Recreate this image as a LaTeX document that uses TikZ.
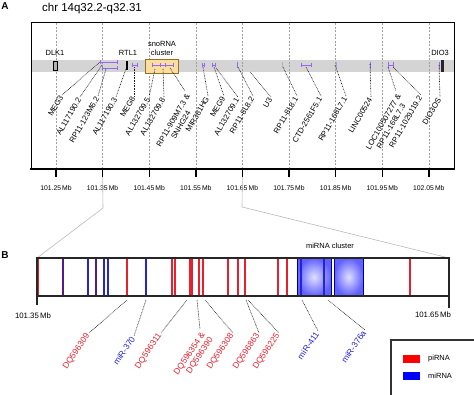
\documentclass[tikz,border=0pt]{standalone}
\usepackage{fontspec}
\setmainfont{Liberation Sans}
\definecolor{pirna}{RGB}{235,30,45}
\definecolor{mirna}{RGB}{35,35,215}
\definecolor{mixrna}{RGB}{85,25,140}
\definecolor{featc}{RGB}{150,105,240}
\definecolor{snofill}{RGB}{250,222,160}
\definecolor{snoedge}{RGB}{150,110,40}
\definecolor{bandc}{RGB}{212,212,212}
\tikzset{
  panellab/.style={font=\bfseries\fontsize{10}{12}\selectfont, inner sep=0pt},
  titlelab/.style={font=\fontsize{11.5}{13}\selectfont, inner sep=0pt},
  smalllab/.style={font=\fontsize{7.5}{9}\selectfont, inner sep=0pt, align=center},
  axlab/.style={font=\fontsize{6.8}{8}\selectfont, inner sep=0pt},
  genelab/.style={font=\fontsize{7.8}{8.8}\selectfont, rotate=60, anchor=east, inner sep=1.5pt},
  rnalab/.style={font=\fontsize{8.5}{9.5}\selectfont, rotate=56, anchor=east, inner sep=1.5pt},
  leader/.style={line width=0.6pt, gray!25!black, dash pattern=on 0.8pt off 0.8pt},
  gridline/.style={line width=0.5pt, gray!75, dash pattern=on 2pt off 1.5pt},
  zoomline/.style={line width=0.6pt, gray!55},
  featbar/.style={line width=0.9pt, featc},
  rnabar/.style={line width=1.1pt}
}
\begin{document}
\begin{tikzpicture}[x=1pt,y=-1pt]
\useasboundingbox (0,0) rectangle (474,394);
% panel A
\node[panellab] (pA) at (5,6) {A};
\node[titlelab] (ttl) at (92,9) {chr 14q32.2-q32.31};
\fill[bandc] (32,60) rectangle (454,72);
\foreach \i in {0,...,8}
  \draw[gridline] ({56+46.6*\i},23) -- ({56+46.6*\i},169);
\draw[line width=0.8pt] (31,169) -- (31,22) -- (454,22) -- (454,169);
\draw[line width=2pt] (30,169) -- (455,169);
\foreach \i/\mb in {0/101.25,1/101.35,2/101.45,3/101.55,4/101.65,5/101.75,6/101.85,7/101.95,8/102.05}{
  \draw[line width=1.4pt] ({56+46.6*\i},169) -- ({56+46.6*\i},177) coordinate (t\i);
  \node[axlab] (m\i) at ({56+46.6*\i},188) {\mb\,Mb};
}
% genes on the band
\draw[fill=gray!60, line width=0.6pt] (53,61) rectangle (57,70);
\node[smalllab] (dlk) at (55,52.5) {DLK1};
\draw[featbar] (100,62) -- (117,62) (100,60) -- (100,64) (117,60) -- (117,64);
\draw[featbar] (102,68) -- (117,68) (102,66) -- (102,70) (117,66) -- (117,70);
\fill[black] (125.5,61) rectangle (127.5,70);
\node[smalllab] (rtl) at (128,52.5) {RTL1};
\draw[featbar] (132,65) -- (137,65) (132,63) -- (132,67) (137,63) -- (137,67);
\draw[fill=snofill, draw=snoedge, line width=0.8pt] (145,59) rectangle (178,73);
\node[smalllab] (sno) at (162,48) {snoRNA\\cluster};
\draw[featbar] (152,65) -- (173,65);
\foreach \x in {152,160,165,173} \draw[featbar] (\x,63) -- (\x,67);
\draw[featbar] (202,65) -- (204,65) (202,63) -- (202,67) (204,63) -- (204,67);
\draw[featbar] (212,65) -- (215,65) (212,63) -- (212,67) (215,63) -- (215,67);
\draw[featbar] (237.5,62) -- (237.5,68);
\draw[line width=0.7pt, gray!60] (282,62) -- (282,68);
\draw[featbar] (301,65) -- (311,65) (301,63) -- (301,67) (311,63) -- (311,67);
\draw[line width=0.7pt, featc!70] (336,62) -- (336,68);
\draw[featbar] (370,62) -- (370,69);
\draw[featbar] (388,65) -- (393,65) (388,62) -- (388,68) (393,62) -- (393,68);
\draw[featbar] (439,62) -- (439,70);
\fill[gray!30!black] (441,60) rectangle (444,72);
\node[smalllab] (dio) at (440,53) {DIO3};
% gene labels
\foreach \n/\fx/\fy/\lx/\ly/\t in {a/100/62/62/95/MEG3, b/102/65/80/97/AL117190.2,
  c/106/69/98/96/RP11-123M6.2, d/127/66/116/97/AL117190.3, e/134/67/134/96/MEG8,
  f/155/69/149/97/AL132709.5, g/163/69/164/97/AL132709.8, i/203/67/208/96/MIR381HG,
  j/214/67/224/96/MEG9, k/216/68/238/97/AL132709.1, l/238/67/253/96/RP11-8L8.2,
  m/250/72/271/97/U3, n/283/67/297/96/RP11-8L8.1, o/306/67/321/96/CTD-2561F5.1,
  p/335/65/346/96/RP11-168L7.1, q/370/64/371/97/LINC00524,
  s/393/67/421/95/RP11-1029J19.2, t/439/65/440/97/DIO3OS}{
  \coordinate (f\n) at (\fx,\fy);
  \node[genelab] (l\n) at (\lx,\ly) {\t};
  \draw[leader] (f\n) -- (l\n.east);
}
\coordinate (fh) at (170,68);
\node[genelab, anchor=north east, align=center] (lh) at (185,91) {RP11-909M7.3 \&\\SNHG24};
\draw[leader] (fh) -- (lh.north east);
\coordinate (fr) at (388,67);
\node[genelab, anchor=north east, align=center] (lr) at (396,91) {LOC100507277 \&\\RP11-168L7.3};
\draw[leader] (fr) -- (lr.north east);
% zoom to panel B
\coordinate (bL) at (37,258);
\coordinate (bR) at (449,258);
\draw[zoomline] (t1) -- (103,208) -- (bL);
\draw[zoomline] (t4) -- (242,207) -- (bR);
% panel B
\node[panellab] (pB) at (5,255) {B};
\node[smalllab] (mcl) at (330,246) {miRNA cluster};
\shade[inner color=blue!12, outer color=blue!62] (297,258) rectangle (331,296);
\shade[inner color=blue!12, outer color=blue!62] (334,258) rectangle (363,296);
\draw[line width=0.6pt, blue!50!black] (297,258) rectangle (331,296);
\draw[line width=0.6pt, blue!50!black] (334,258) rectangle (363,296);
\foreach \x in {38,127,172,175,190,192,199,203,228,238,245,278,287,410}
  \draw[rnabar, pirna] (\x,258) -- (\x,296);
\foreach \x in {88,104,108,146,301,324}
  \draw[rnabar, mirna] (\x,258) -- (\x,296);
\foreach \x in {63,96}
  \draw[rnabar, mixrna] (\x,258) -- (\x,296);
\draw[line width=1.1pt, gray!30!black] (bL) rectangle (449,296);
\draw[line width=1.1pt, gray!30!black] (37,296) -- (37,305);
\draw[line width=1.1pt, gray!30!black] (449,296) -- (449,308);
\node[axlab, font=\fontsize{7.8}{9}\selectfont] (bl) at (33,316) {101.35\,Mb};
\node[axlab, font=\fontsize{7.8}{9}\selectfont] (br) at (433,315) {101.65\,Mb};
% RNA labels
\foreach \n/\fx/\lx/\ly/\t/\c in {a/127/89/333/DQ596309/pirna, b/146/134/336/miR-370/mirna,
  c/187/161/333/DQ596311/pirna, e/205/233/333/DQ596308/pirna,
  f/246/259/333/DQ596863/pirna, g/248/279/333/DQ596225/pirna,
  h/302/318/331/miR-411/mirna, i/328/365/330/miR-376a/mirna}{
  \coordinate (r\n) at (\fx,300);
  \node[rnalab, text=\c] (q\n) at (\lx,\ly) {\t};
  \draw[leader] (r\n) -- (q\n.east);
}
\coordinate (rd) at (197,300);
\node[rnalab, text=pirna, anchor=north east, align=right] (qd) at (200,329) {DQ596354 \&\\DQ596390};
\draw[leader] (rd) -- (qd.north east);
% legend
\draw[line width=1.2pt, gray!40!black, fill=white] (391,340) rectangle (478,398);
\fill[red] (403,355) rectangle (420,362.5);
\fill[blue] (403,372) rectangle (420,380);
\node[smalllab, anchor=west] (kp) at (428,358.5) {piRNA};
\node[smalllab, anchor=west] (km) at (428,376) {miRNA};
\end{tikzpicture}
\end{document}
